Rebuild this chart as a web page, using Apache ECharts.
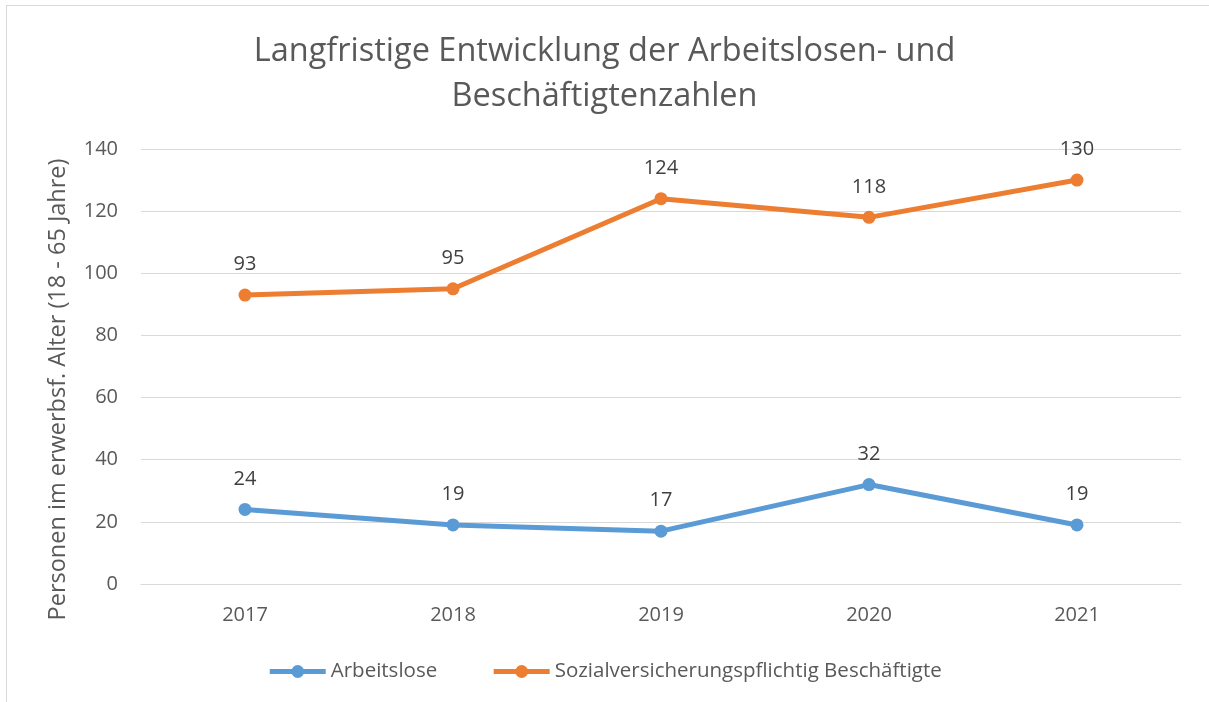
<!DOCTYPE html>
<html><head><meta charset="utf-8">
<script src="https://cdn.jsdelivr.net/npm/echarts@6/dist/echarts.min.js"></script>
<style>
html,body{margin:0;padding:0;background:#fff;overflow:hidden}
#frame{position:absolute;left:6px;top:5px;width:1300px;height:800px;border:1px solid #d9d9d9;box-sizing:border-box}
#c{position:absolute;left:0;top:0;width:1209px;height:702px}
</style></head>
<body>
<div id="frame"></div>
<div id="c"></div>
<script>
const titleText = 'Langfristige Entwicklung der Arbeitslosen- und\nBeschäftigtenzahlen';
const yAxisTitle = 'Personen im erwerbsf. Alter (18 - 65 Jahre)';
const years = ['2017', '2018', '2019', '2020', '2021'];
const seriesNames = ['Arbeitslose', 'Sozialversicherungspflichtig Beschäftigte'];
const arbeitslose = [24, 19, 17, 32, 19];
const beschaeftigte = [93, 95, 124, 118, 130];
const yMin = 0, yMax = 140, yStep = 20;

const font = 'Open Sans';
const chart = echarts.init(document.getElementById('c'), null, {renderer: 'canvas'});
const mkSeries = (name, data, color) => ({
  name, type: 'line', data,
  symbol: 'circle', symbolSize: 13,
  lineStyle: {width: 5, color},
  itemStyle: {color},
  label: {show: true, position: 'top', distance: 14, fontFamily: font, fontSize: 20, color: '#404040'},
  emphasis: {disabled: true}
});
chart.setOption({
  animation: false,
  title: {
    text: titleText, left: 'center', top: 24,
    textStyle: {fontFamily: font, fontSize: 32.5, fontWeight: 'normal', color: '#595959', lineHeight: 45}
  },
  legend: {
    top: 656, left: 'center', itemWidth: 56, itemHeight: 16, itemGap: 54,
    lineStyle: {width: 5},
    textStyle: {fontFamily: font, fontSize: 20.5, color: '#595959'},
    data: seriesNames
  },
  grid: {left: 141, right: 28, top: 149, bottom: 118},
  xAxis: {
    type: 'category', data: years, boundaryGap: true,
    axisLine: {lineStyle: {color: '#d9d9d9', width: 1}},
    axisTick: {show: false},
    axisLabel: {fontFamily: font, fontSize: 20, color: '#595959', margin: 21}
  },
  yAxis: {
    type: 'value', min: yMin, max: yMax, interval: yStep,
    name: yAxisTitle, nameLocation: 'middle', nameGap: 71, nameRotate: 90,
    nameTextStyle: {fontFamily: font, fontSize: 23.5, color: '#595959', padding: [0, 0, 0, -46]},
    axisLine: {show: false}, axisTick: {show: false},
    axisLabel: {fontFamily: font, fontSize: 20, color: '#595959', margin: 23},
    splitLine: {lineStyle: {color: '#d9d9d9', width: 1}}
  },
  series: [
    mkSeries(seriesNames[0], arbeitslose, '#5B9BD5'),
    mkSeries(seriesNames[1], beschaeftigte, '#ED7D31')
  ]
});
</script>
</body></html>
